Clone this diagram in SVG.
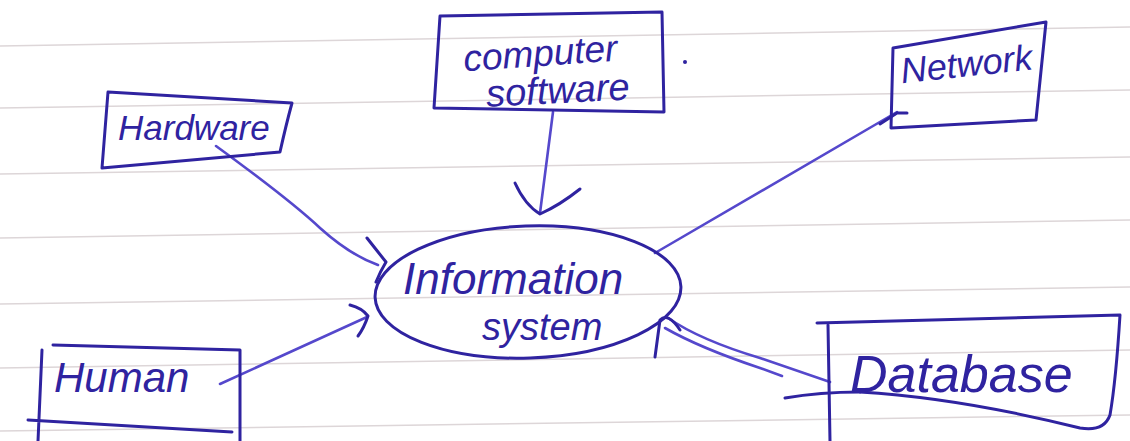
<svg xmlns="http://www.w3.org/2000/svg" width="1130" height="441" viewBox="0 0 1130 441">
<defs>
<style>
.rule{stroke:#ddd6d8;stroke-width:1.5;fill:none}
.pen{stroke:#2f23a0;stroke-width:3;fill:none;stroke-linecap:round;stroke-linejoin:round}
.link{stroke:#5548cc;stroke-width:2.6;fill:none;stroke-linecap:round;stroke-linejoin:round}
.hand{font-family:"Liberation Sans","DejaVu Sans",sans-serif;fill:#2f23a0;font-style:italic}
</style>
</defs>
<rect width="1130" height="441" fill="#ffffff"/>
<g id="paper">
<line class="rule" x1="0" y1="46" x2="1130" y2="27"/>
<line class="rule" x1="0" y1="108" x2="1130" y2="90"/>
<line class="rule" x1="0" y1="174" x2="1130" y2="157"/>
<line class="rule" x1="0" y1="238" x2="1130" y2="220"/>
<line class="rule" x1="0" y1="304" x2="1130" y2="287"/>
<line class="rule" x1="0" y1="368" x2="1130" y2="350"/>
<line class="rule" x1="0" y1="431" x2="1130" y2="415"/>
</g>
<g id="connectors">
<path class="link" d="M553,112 L540,213"/>
<path class="pen" d="M515,183 Q525,205 540,214 Q560,205 580,189"/>
<path class="link" d="M216,146 Q290,200 320,228 Q350,255 378,265"/>
<path class="pen" d="M367,238 Q378,252 386,262 Q380,272 376,282"/>
<path class="link" d="M220,384 L367,317"/>
<path class="pen" d="M350,305 Q362,308 368,316 Q364,328 358,336"/>
<path class="link" d="M655,253 L897,112"/>
<path class="pen" d="M880,124 L897,113 L907,113"/>
<path class="link" d="M668,318 Q700,340 760,358 L830,382"/>
<path class="link" d="M665,328 Q700,348 760,368 L782,376"/>
<path class="pen" d="M655,357 L660,320 Q668,312 680,330"/>
<path class="pen" d="M785,398 Q820,392 860,392"/>
</g>
<g id="software">
<path class="pen" d="M440,16 L662,12 L664,112 L434,108 Z"/>
<text class="hand" x="463" y="66" font-size="37" transform="rotate(-4 540 50)">computer</text>
<text class="hand" x="486" y="103" font-size="38" transform="rotate(-3 560 90)">software</text>
</g>
<circle cx="685" cy="62" r="2" fill="#2f23a0"/>
<g id="hardware">
<path class="pen" d="M108,92 L292,103 Q286,125 280,152 L102,168 Z"/>
<text class="hand" x="118" y="140" font-size="35">Hardware</text>
</g>
<g id="network">
<path class="pen" d="M893,48 L1046,22 L1036,120 L891,128 Z"/>
<text class="hand" x="900" y="76" font-size="36" transform="rotate(-6 970 60)">Network</text>
</g>
<g id="information-system">
<ellipse class="pen" cx="528" cy="292" rx="153" ry="66" transform="rotate(-2 528 292)"/>
<text class="hand" x="403" y="294" font-size="44">Information</text>
<text class="hand" x="482" y="340" font-size="38">system</text>
</g>
<g id="human">
<path class="pen" d="M53,345 L240,350 L240,441 M42,350 L38,441 M28,420 L232,432"/>
<text class="hand" x="54" y="392" font-size="42">Human</text>
</g>
<g id="database">
<path class="pen" d="M817,323 L1120,315 Q1116,380 1110,415 Q1104,432 1080,428 Q960,398 860,392 M828,325 L830,441"/>
<text class="hand" x="850" y="392" font-size="52">Database</text>
</g>
</svg>
